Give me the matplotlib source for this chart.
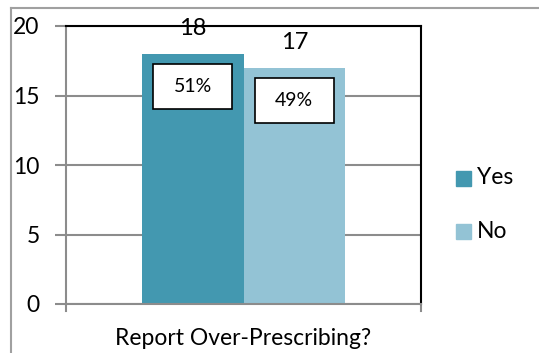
import numpy as np
import matplotlib.pyplot as plt
from matplotlib.patches import Rectangle
from matplotlib.lines import Line2D

plt.rcParams['font.family'] = ['Lato', 'DejaVu Sans']

categories = ['Yes', 'No']
counts = [18, 17]
pct_labels = ['51%', '49%']
colors = ['#4398b0', '#93c3d5']
xlabel = 'Report Over-Prescribing?'

fig = plt.figure(figsize=(5.39, 3.53), dpi=100)

# outer chart frame (left and top edges only visible)
fig.add_artist(Line2D([11/539, 11/539], [0, 1 - 8/353], transform=fig.transFigure, color='#a0a0a0', lw=1.5))
fig.add_artist(Line2D([11/539, 1], [1 - 8/353, 1 - 8/353], transform=fig.transFigure, color='#a0a0a0', lw=1.5))

ax = fig.add_axes([66/539, 1 - 304/353, 355/539, 278/353])

width = 101.5 / 355
xs = (np.arange(len(counts)) - 0.5) * width
ax.bar(xs, counts, width=width, color=colors, zorder=2)

ax.set_xlim(-0.5, 0.5)
ax.set_ylim(0, 20)
ax.set_yticks([0, 5, 10, 15, 20])
ax.set_xticks([])
ax.grid(axis='y', color='#8c8c8c', lw=1.5, zorder=0)

for s in ['top', 'right']:
    ax.spines[s].set_color('black')
    ax.spines[s].set_linewidth(1.5)
for s in ['left', 'bottom']:
    ax.spines[s].set_color('#8c8c8c')
    ax.spines[s].set_linewidth(1.5)
ax.tick_params(axis='y', length=8, width=1.5, color='#8c8c8c', labelsize=16.5, pad=11)

# bottom ticks at axis edges
for xe in [-0.5, 0.5]:
    ax.plot([xe, xe], [0, -0.5], color='#8c8c8c', lw=1.5, clip_on=False)

# value labels above bars and percentage boxes inside bars
box_w = 79 / 355
box_h = 45 / 278 * 20
box_gap = 10 / 278 * 20
for x, v, p in zip(xs, counts, pct_labels):
    ax.annotate(str(v), xy=(x, v), xytext=(0, 18), textcoords='offset points',
                ha='center', va='center', fontsize=17, zorder=5)
    top = v - box_gap
    ax.add_patch(Rectangle((x - box_w / 2, top - box_h), box_w, box_h,
                           facecolor='white', edgecolor='black', lw=1.2, zorder=3))
    ax.text(x, top - box_h / 2, p, ha='center', va='center', fontsize=14, zorder=4)

ax.text(0, -0.125, xlabel, transform=ax.get_xaxis_transform(), ha='center', va='center', fontsize=16.5)

# legend
leg_y = [1 - 178/353, 1 - 231.5/353]
for c, lab, ly in zip(colors, categories, leg_y):
    fig.add_artist(Rectangle((456/539, ly - 7.5/353), 15/539, 15/353, transform=fig.transFigure, color=c))
    fig.text(477/539, ly, lab, ha='left', va='center', fontsize=16.5)

fig.savefig('out.png', dpi=100)
